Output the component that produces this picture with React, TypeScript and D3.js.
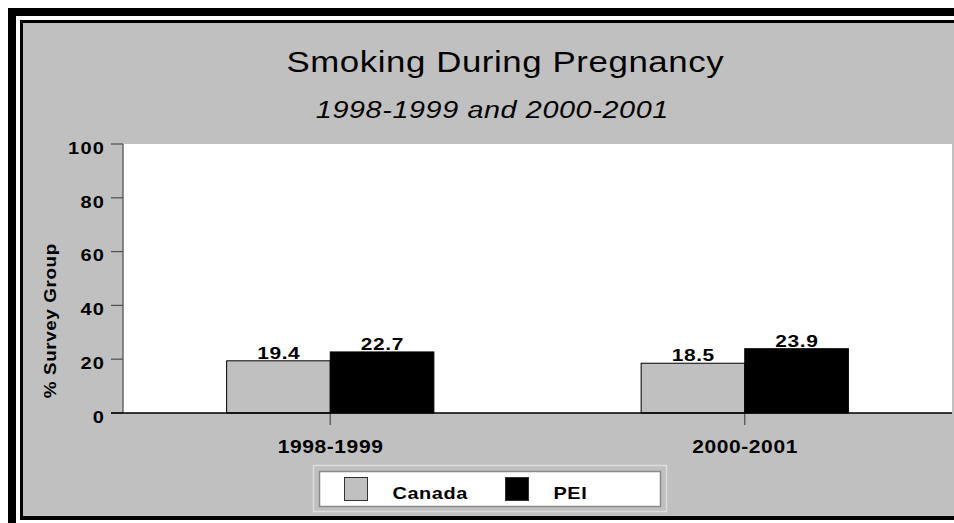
import React from "react";
import * as d3 from "d3";

// Survey periods and the two compared populations
const periods: string[] = ["1998-1999", "2000-2001"];
const seriesNames: string[] = ["Canada", "PEI"];
const canadaValues: number[] = [19.4, 18.5];
const peiValues: number[] = [22.7, 23.9];
const yTicks: number[] = [0, 20, 40, 60, 80, 100];

const titleText = "Smoking During Pregnancy";
const subtitleText = "1998-1999 and 2000-2001";
const yAxisTitle = "% Survey Group";

const W = 954;
const H = 523;
const FONT = "'Liberation Sans', Arial, Helvetica, sans-serif";
const GRAY = "#c0c0c0";
const seriesFill: Record<string, string> = { Canada: GRAY, PEI: "#000000" };

const plot = { left: 123, right: 952, top: 144, bottom: 413 };

type TProps = {
  x: number;
  y: number;
  anchor?: "start" | "middle" | "end";
  size: number;
  bold?: boolean;
  italic?: boolean;
  sx?: number;
  ls?: number;
  rotate?: number;
  children: React.ReactNode;
};

// Text drawn with a wide, slightly tracked face
function T({ x, y, anchor = "start", size, bold, italic, sx = 1.2, ls = 0.5, rotate = 0, children }: TProps) {
  // Chrome adds spacing after the final glyph as well; compensate for it
  const shift = anchor === "middle" ? ls / 2 : anchor === "end" ? ls : 0;
  return (
    <text
      transform={`translate(${x},${y}) rotate(${rotate}) scale(${sx},1) translate(${shift},0)`}
      textAnchor={anchor}
      fontSize={size}
      fontWeight={bold ? "bold" : "normal"}
      fontStyle={italic ? "italic" : "normal"}
      letterSpacing={ls}
      fill="#000"
    >
      {children}
    </text>
  );
}

export default function App() {
  const rows = periods.map((p, i) => ({
    period: p,
    values: [
      { name: seriesNames[0], value: canadaValues[i] },
      { name: seriesNames[1], value: peiValues[i] },
    ],
  }));

  const x0 = d3
    .scaleBand<string>()
    .domain(periods)
    .range([plot.left, plot.right])
    .paddingInner(0.5)
    .paddingOuter(0.25);
  const x1 = d3.scaleBand<string>().domain(seriesNames).range([0, x0.bandwidth()]);
  const y = d3.scaleLinear().domain([0, 100]).range([plot.bottom, plot.top]);

  return (
    <svg
      width={W}
      height={H}
      style={{ position: "absolute", left: 0, top: 0, display: "block" }}
      fontFamily={FONT}
    >
      {/* page frame: thick black, white gap, thin black, gray panel */}
      <rect x={8} y={8} width={1000} height={H} fill="#000" />
      <rect x={16} y={16} width={1000} height={508} fill="#fff" />
      <rect x={20} y={20} width={1000} height={500} fill="#000" />
      <rect x={23} y={23} width={1000} height={493} fill={GRAY} />

      {/* titles */}
      <T x={505} y={72} anchor="middle" size={29} sx={1.2}>
        {titleText}
      </T>
      <T x={492} y={118} anchor="middle" size={23} italic sx={1.25}>
        {subtitleText}
      </T>

      {/* plot background */}
      <rect
        x={plot.left}
        y={plot.top}
        width={plot.right - plot.left}
        height={plot.bottom - plot.top}
        fill="#fff"
      />

      {/* y axis */}
      <line x1={plot.left} x2={plot.left} y1={plot.top} y2={plot.bottom} stroke="#555" strokeWidth={1.3} />
      {yTicks.map((t) => (
        <g key={t}>
          <line x1={plot.left - 12} x2={plot.left} y1={y(t)} y2={y(t)} stroke="#555" strokeWidth={1.3} />
          <T x={104} y={y(t) + 9.7} anchor="end" size={16} bold sx={1.25} ls={1}>
            {t}
          </T>
        </g>
      ))}
      <T x={56} y={321} anchor="middle" size={16} bold rotate={-90} sx={1.18}>
        {yAxisTitle}
      </T>

      {/* bars with value labels */}
      {rows.map((r) => {
        const cx = (x0(r.period) ?? 0) + x0.bandwidth() / 2;
        return (
          <g key={r.period}>
            {r.values.map((v) => {
              const bx = (x0(r.period) ?? 0) + (x1(v.name) ?? 0);
              const bw = x1.bandwidth();
              return (
                <g key={v.name}>
                  <rect
                    x={bx}
                    y={y(v.value)}
                    width={bw}
                    height={y(0) - y(v.value)}
                    fill={seriesFill[v.name]}
                    stroke="#000"
                    strokeWidth={1}
                  />
                  <T x={bx + bw / 2} y={y(v.value) - 2} anchor="middle" size={17} bold sx={1.23}>
                    {v.value.toFixed(1)}
                  </T>
                </g>
              );
            })}
            {/* category tick and label */}
            <line x1={cx} x2={cx} y1={plot.bottom} y2={plot.bottom + 12} stroke="#555" strokeWidth={1.3} />
            <T x={cx} y={452.5} anchor="middle" size={17.5} bold sx={1.2}>
              {r.period}
            </T>
          </g>
        );
      })}

      {/* baseline */}
      <line x1={plot.left - 12} x2={plot.right} y1={plot.bottom} y2={plot.bottom} stroke="#000" strokeWidth={1.3} />

      {/* legend */}
      <rect x={313.5} y={465.5} width={353} height={46} fill="none" stroke="#dcdcdc" strokeWidth={1.5} />
      <rect x={319.5} y={471.5} width={341} height={35} fill="#fff" stroke="#8a8a8a" strokeWidth={1.5} />
      {seriesNames.map((name, i) => {
        const lx = 344 + i * 161;
        return (
          <g key={name}>
            <rect
              x={lx + 0.5}
              y={477.5}
              width={23}
              height={23}
              fill={seriesFill[name]}
              stroke="#333"
              strokeWidth={1}
            />
            <T x={lx + 48.5} y={498.5} size={17} bold sx={1.17}>
              {name}
            </T>
          </g>
        );
      })}
    </svg>
  );
}
